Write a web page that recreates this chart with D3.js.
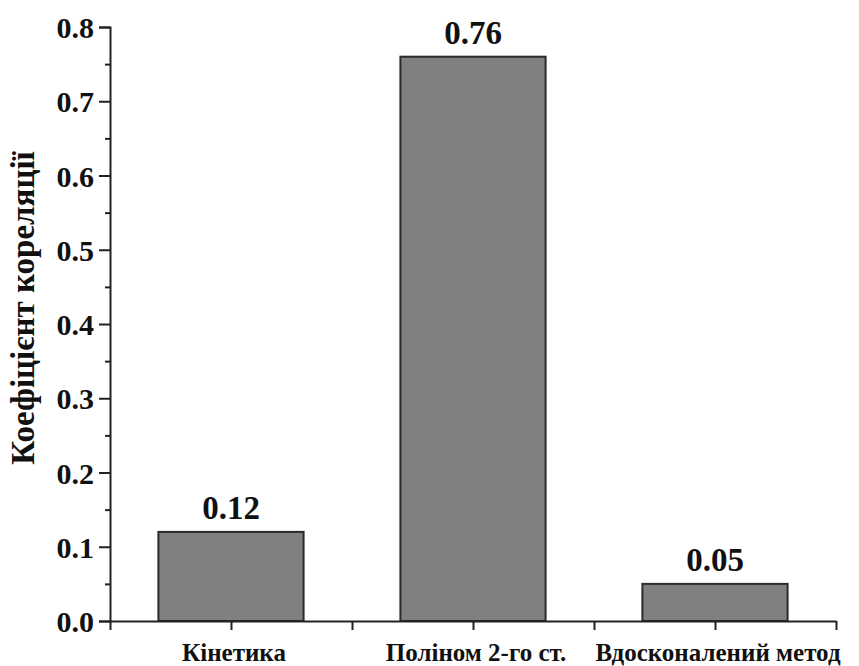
<!DOCTYPE html>
<html>
<head>
<meta charset="utf-8">
<script src="https://cdn.jsdelivr.net/npm/d3@7"></script>
<style>
  html, body { margin: 0; padding: 0; background: #fff; }
  svg text { font-family: "Liberation Serif", "Times New Roman", serif; font-weight: bold; fill: #111; }
</style>
</head>
<body>
<svg id="chart" width="859" height="666"></svg>
<script>
// Correlation coefficients by method
const categories = ["Кінетика", "Поліном 2-го ст.", "Вдосконалений метод"];
const values = [0.12, 0.76, 0.05];
const valueLabels = ["0.12", "0.76", "0.05"];
const yTicks = [0.0, 0.1, 0.2, 0.3, 0.4, 0.5, 0.6, 0.7, 0.8];
const yMinorTicks = [0.05, 0.15, 0.25, 0.35, 0.45, 0.55, 0.65, 0.75];
const yTitle = "Коефіцієнт кореляції";

const svg = d3.select("#chart");
const plotLeft = 110, plotRight = 836, plotTop = 27, plotBottom = 621;

const x = d3.scaleBand().domain(categories).range([plotLeft, plotRight]).paddingInner(0.4).paddingOuter(0.2);
const y = d3.scaleLinear().domain([0, 0.8]).range([plotBottom, plotTop]);

// bars
svg.append("g").selectAll("rect").data(values).join("rect")
  .attr("x", (d, i) => x(categories[i]))
  .attr("y", d => y(d))
  .attr("width", x.bandwidth())
  .attr("height", d => y(0) - y(d))
  .attr("fill", "#808080")
  .attr("stroke", "#2a2a2a")
  .attr("stroke-width", 2);

// value labels
svg.append("g").selectAll("text").data(values).join("text")
  .attr("x", (d, i) => x(categories[i]) + x.bandwidth() / 2)
  .attr("y", d => y(d) - 13)
  .attr("text-anchor", "middle")
  .style("font-size", "33px")
  .text((d, i) => valueLabels[i]);

// y axis
const yAxis = svg.append("g").attr("transform", `translate(${plotLeft},0)`)
  .call(d3.axisLeft(y).tickValues(yTicks).tickFormat(d3.format(".1f")).tickSize(11).tickPadding(5));
yAxis.selectAll("text").style("font-size", "30px").attr("dy", "0.35em");
svg.append("g").attr("transform", `translate(${plotLeft},0)`)
  .call(d3.axisLeft(y).tickValues(yMinorTicks).tickFormat("").tickSize(5))
  .select(".domain").remove();

// x axis: ticks at band centres and band boundaries
const xLin = d3.scaleLinear().domain([0, categories.length]).range([plotLeft, plotRight]);
const xTickVals = d3.range(0, categories.length + 0.5, 0.5);
svg.append("g").attr("transform", `translate(0,${plotBottom})`)
  .call(d3.axisBottom(xLin).tickValues(xTickVals).tickFormat("").tickSize(9).tickSizeOuter(0));

svg.append("g").selectAll("text").data(categories).join("text")
  .attr("x", d => x(d) + x.bandwidth() / 2 + 3)
  .attr("y", 661)
  .attr("text-anchor", "middle")
  .style("font-size", "25px")
  .text(d => d);

svg.selectAll(".domain, .tick line").attr("stroke", "#222").attr("stroke-width", 2);

// y title
svg.append("text")
  .attr("transform", `translate(34,${(plotTop + plotBottom) / 2 - 16}) rotate(-90)`)
  .attr("text-anchor", "middle")
  .style("font-size", "33px")
  .text(yTitle);
</script>
</body>
</html>
